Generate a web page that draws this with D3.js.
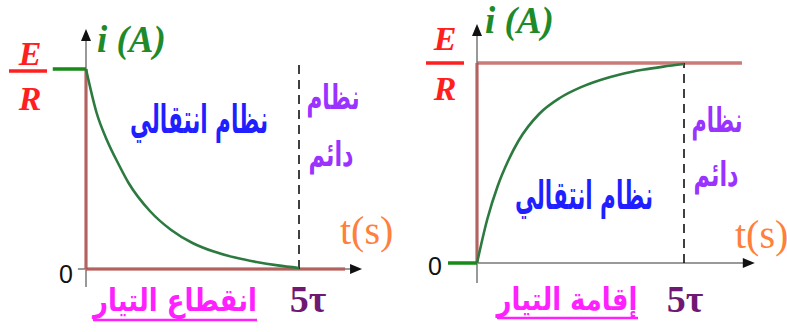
<!DOCTYPE html>
<html>
<head>
<meta charset="utf-8">
<script src="https://cdn.jsdelivr.net/npm/d3@7"></script>
<style>
  body { margin: 0; background: #fff; }
  svg { display: block; }
</style>
</head>
<body>
<div id="chart"></div>
<script>
// Time in units of tau, and current as a fraction of E/R
const tau = [0, 0.25, 0.5, 0.75, 1, 1.5, 2, 2.5, 3, 3.5, 4, 4.5, 5];
const iDecay = [1, 0.78, 0.64, 0.53, 0.43, 0.29, 0.195, 0.13, 0.087, 0.057, 0.035, 0.018, 0.005];
const iGrowth = [0, 0.22, 0.385, 0.51, 0.61, 0.745, 0.825, 0.878, 0.916, 0.945, 0.966, 0.982, 0.995];

// Labels
const tickLabels = ["0", "5τ"];
const axisLabels = ["i (A)", "t(s)"];
const regimeLabels = ["نظام انتقالي", "نظام", "دائم"];
const panelTitles = ["انقطاع التيار", "إقامة التيار"];

let svgWidth = 787, svgHeight = 332;
let serif = 'Liberation Serif';
let sans = 'Liberation Sans';
let arabic = 'DejaVu Sans';

let svg = d3.select('#chart')
            .append('svg')
            .attr('width', svgWidth)
            .attr('height', svgHeight);

// Panel layouts (pixel positions only)
let panels = [
  {
    values: iDecay, title: panelTitles[0],
    xRange: [86, 299], yRange: [269, 69],
    axisX: [-0.19, 6.48], axisY: [-0.09, 1.2], redX: 6.08,
    greenFrom: -0.78, greenAt: 1, dashTop: 1.045,
    E: [30, 65], bar: [9, 47, 71], R: [30, 110],
    iA: [97, 52], zero: [66, 283], five: [308, 312], ts: [340, 244],
    blue: [199, 133, 138], purple1: [333, 109, 53], purple2: [331, 166, 45],
    titlePos: [175, 311, 164], underline: [93, 257, 320]
  },
  {
    values: iGrowth, title: panelTitles[1],
    xRange: [477, 684], yRange: [263, 63],
    axisX: [0, 6.71], axisY: [-0.1, 1.195], redX: 6.4,
    greenFrom: -0.7, greenAt: 0, dashTop: 1,
    E: [445, 50], bar: [426, 464, 63], R: [445, 100],
    iA: [485, 33], zero: [435, 275], five: [685, 312], ts: [735, 248],
    blue: [584, 209, 138], purple1: [717, 132, 51], purple2: [716, 186, 45],
    titlePos: [567, 310, 141], underline: [497, 638, 318]
  }
];

// Squeeze an Arabic text to a given width, centred on (cx, by)
function fitText(sel, pos) {
  let w = sel.node().getComputedTextLength();
  sel.attr('transform', `translate(${pos[0]},${pos[1]}) scale(${pos[2] / w},1)`);
}

panels.forEach(p => {
  let x = d3.scaleLinear().domain([0, 5]).range(p.xRange);
  let y = d3.scaleLinear().domain([0, 1]).range(p.yRange);
  let g = svg.append('g');

  // grey axes
  g.append('line')
    .attr('x1', x(p.axisX[0])).attr('x2', x(p.axisX[1]) - 6)
    .attr('y1', y(0)).attr('y2', y(0))
    .attr('stroke', '#999').attr('stroke-width', 2);
  g.append('line')
    .attr('x1', x(0)).attr('x2', x(0))
    .attr('y1', y(p.axisY[0])).attr('y2', y(p.axisY[1]) + 6)
    .attr('stroke', '#999').attr('stroke-width', 2);

  // arrow heads
  let tipX = x(p.axisX[1]), tipY = y(p.axisY[1]);
  g.append('path')
    .attr('d', `M${tipX},${y(0)} L${tipX - 12},${y(0) - 5} L${tipX - 12},${y(0) + 5} Z`)
    .attr('fill', '#111');
  g.append('path')
    .attr('d', `M${x(0)},${tipY} L${x(0) - 5},${tipY + 12} L${x(0) + 5},${tipY + 12} Z`)
    .attr('fill', '#111');

  // red guide lines: vertical at t=0 and horizontal at the final value
  let redColor = '#b8504c';
  g.append('line')
    .attr('x1', x(0)).attr('x2', x(0))
    .attr('y1', y(0)).attr('y2', y(1))
    .attr('stroke', redColor).attr('stroke-width', 3.5).attr('opacity', 0.7);
  let level = p.values[p.values.length - 1] > 0.5 ? 1 : 0;
  g.append('line')
    .attr('x1', x(0)).attr('x2', x(p.redX))
    .attr('y1', y(level)).attr('y2', y(level))
    .attr('stroke', redColor).attr('stroke-width', 3.5).attr('opacity', 0.75);

  // green segment before t=0
  g.append('line')
    .attr('x1', x(p.greenFrom)).attr('x2', x(0))
    .attr('y1', y(p.greenAt)).attr('y2', y(p.greenAt))
    .attr('stroke', '#178a17').attr('stroke-width', 3.5);

  // dashed line at 5 tau
  g.append('line')
    .attr('x1', x(5)).attr('x2', x(5))
    .attr('y1', y(0)).attr('y2', y(p.dashTop))
    .attr('stroke', '#111').attr('stroke-width', 1.6)
    .attr('stroke-dasharray', '9,6');

  // current curve
  let line = d3.line()
    .x((d, i) => x(tau[i]))
    .y(d => y(d))
    .curve(d3.curveMonotoneX);
  g.append('path')
    .datum(p.values)
    .attr('d', line)
    .attr('fill', 'none')
    .attr('stroke', '#2c7a40')
    .attr('stroke-width', 2.6);

  // E / R fraction
  g.append('text').attr('x', p.E[0]).attr('y', p.E[1])
    .attr('text-anchor', 'middle').attr('font-family', serif)
    .attr('font-style', 'italic').attr('font-weight', 'bold')
    .attr('font-size', 34).attr('fill', '#ff1f1f').text('E');
  g.append('line')
    .attr('x1', p.bar[0]).attr('x2', p.bar[1])
    .attr('y1', p.bar[2]).attr('y2', p.bar[2])
    .attr('stroke', '#ff1f1f').attr('stroke-width', 3.5);
  g.append('text').attr('x', p.R[0]).attr('y', p.R[1])
    .attr('text-anchor', 'middle').attr('font-family', serif)
    .attr('font-style', 'italic').attr('font-weight', 'bold')
    .attr('font-size', 34).attr('fill', '#ff1f1f').text('R');

  // axis names
  g.append('text').attr('x', p.iA[0]).attr('y', p.iA[1])
    .attr('font-family', serif).attr('font-style', 'italic').attr('font-weight', 'bold')
    .attr('font-size', 37).attr('fill', '#1e8a2a').text(axisLabels[0]);
  g.append('text').attr('x', p.ts[0]).attr('y', p.ts[1])
    .attr('font-family', serif).attr('font-size', 40)
    .attr('fill', '#ff7f3c').text(axisLabels[1]);

  // tick labels
  g.append('text').attr('x', p.zero[0]).attr('y', p.zero[1])
    .attr('text-anchor', 'middle').attr('font-family', sans)
    .attr('font-size', 25).attr('fill', '#111').text(tickLabels[0]);
  g.append('text').attr('x', p.five[0]).attr('y', p.five[1])
    .attr('text-anchor', 'middle').attr('font-family', serif).attr('font-weight', 'bold')
    .attr('font-size', 38).attr('fill', '#6e1a72').text(tickLabels[1]);

  // regime labels
  let blue = g.append('text')
    .attr('text-anchor', 'middle').attr('font-family', arabic).attr('font-weight', 'bold')
    .attr('font-size', 40).attr('fill', '#1f1fff')
    .text(regimeLabels[0]);
  fitText(blue, p.blue);
  let steady1 = g.append('text')
    .attr('text-anchor', 'middle').attr('font-family', arabic).attr('font-weight', 'bold')
    .attr('font-size', 34).attr('fill', '#9a33ff')
    .text(regimeLabels[1]);
  fitText(steady1, p.purple1);
  let steady2 = g.append('text')
    .attr('text-anchor', 'middle').attr('font-family', arabic).attr('font-weight', 'bold')
    .attr('font-size', 34).attr('fill', '#9a33ff')
    .text(regimeLabels[2]);
  fitText(steady2, p.purple2);

  // panel title, underlined
  let title = g.append('text')
    .attr('text-anchor', 'middle').attr('font-family', arabic).attr('font-weight', 'bold')
    .attr('font-size', 31).attr('fill', '#ff1fff')
    .text(p.title);
  fitText(title, p.titlePos);
  g.append('line')
    .attr('x1', p.underline[0]).attr('x2', p.underline[1])
    .attr('y1', p.underline[2]).attr('y2', p.underline[2])
    .attr('stroke', '#ff1fff').attr('stroke-width', 2.5);
});
</script>
</body>
</html>
